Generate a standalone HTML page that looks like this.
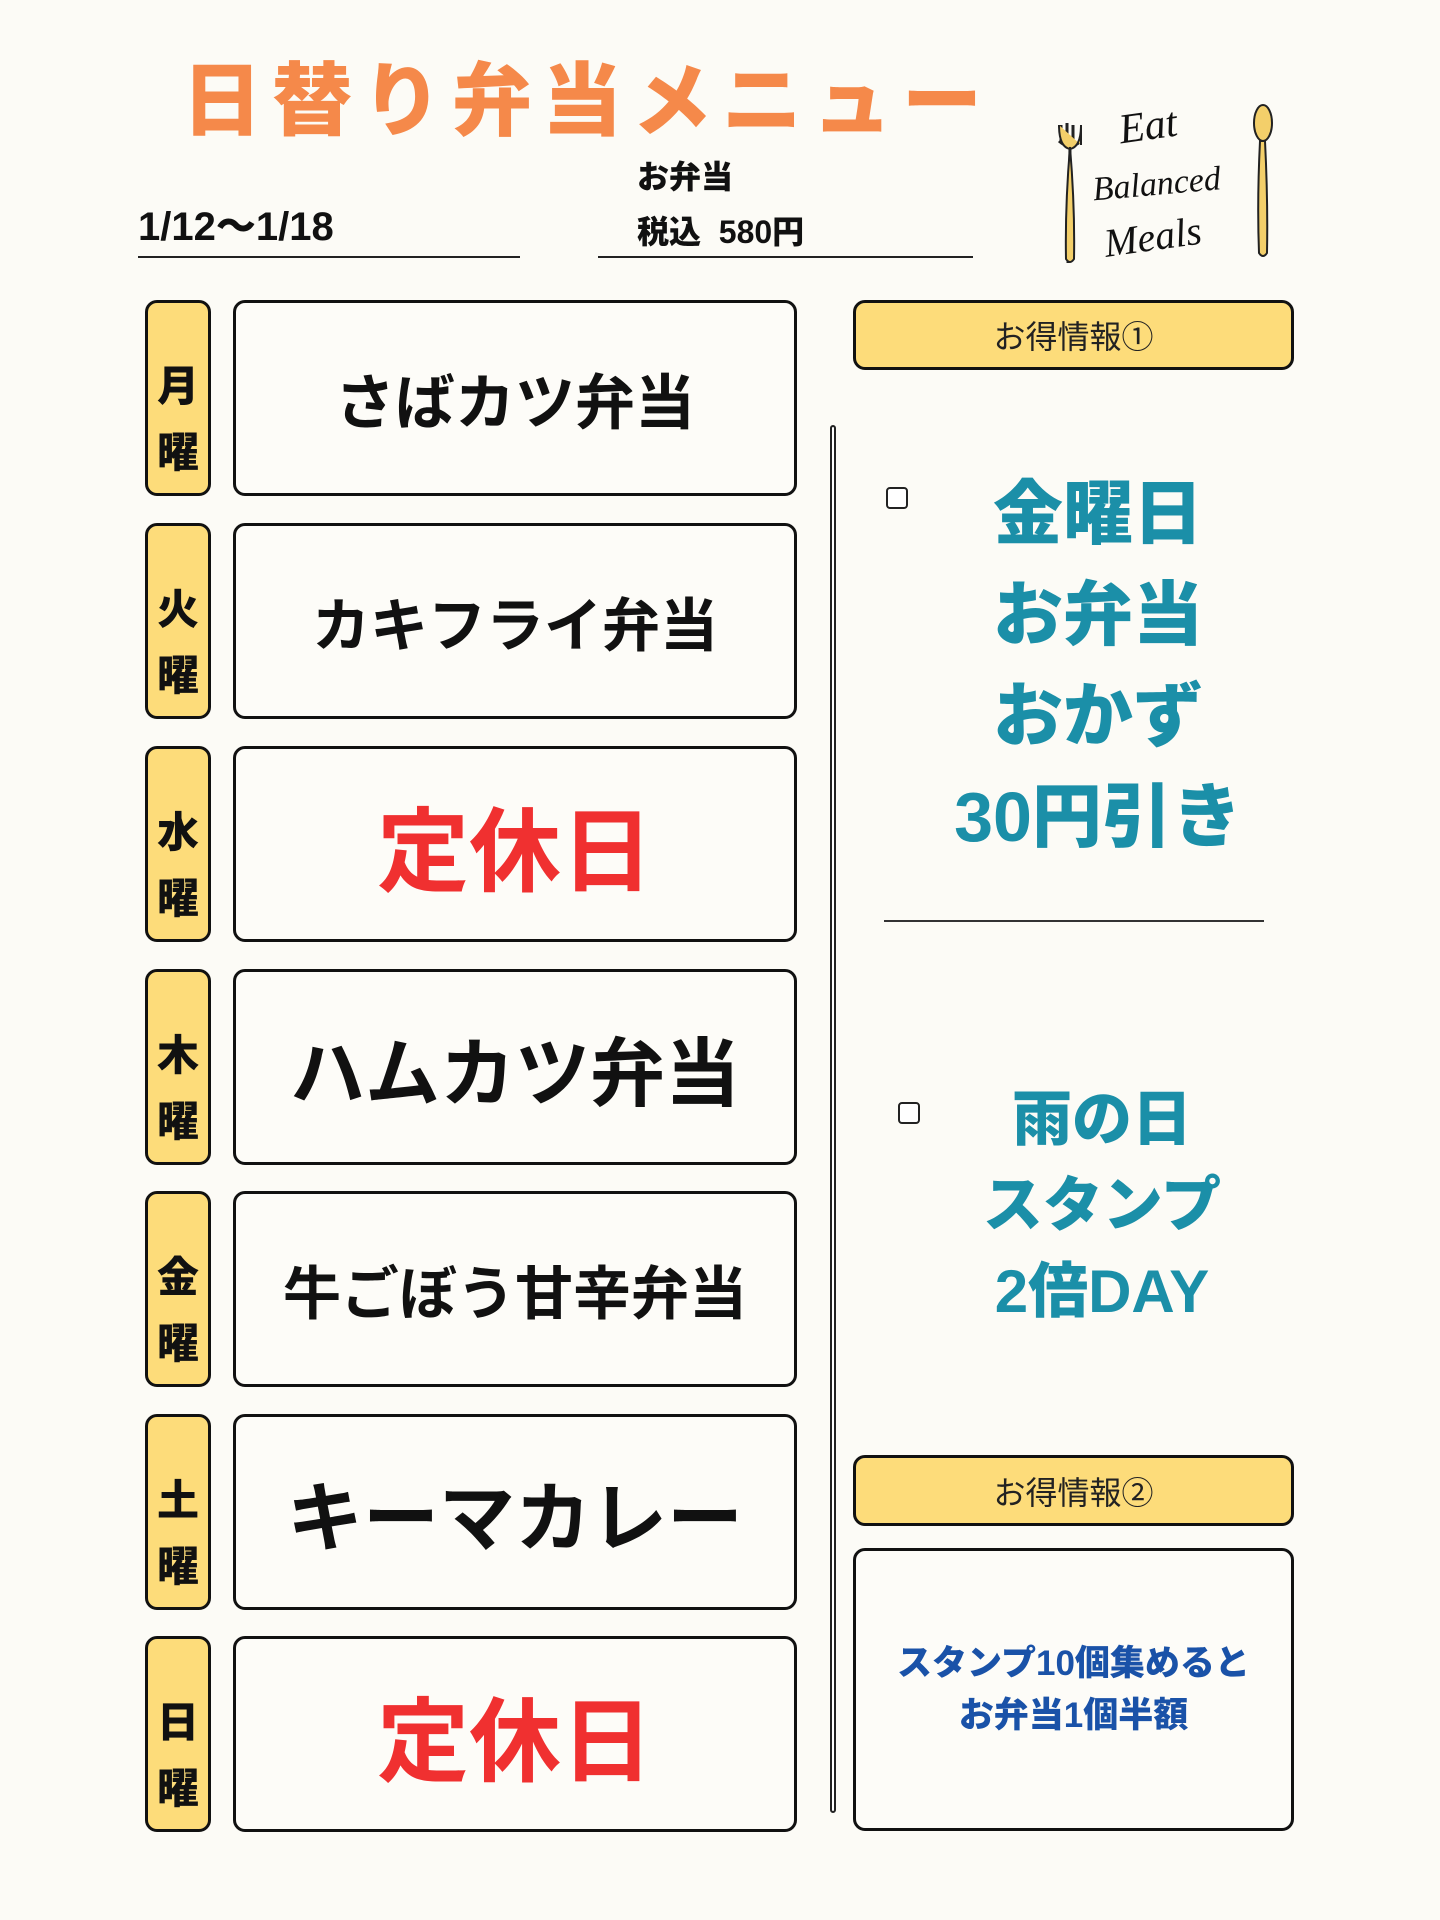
<!DOCTYPE html>
<html><head><meta charset="utf-8"><style>
*{margin:0;padding:0;box-sizing:border-box}
body{width:1440px;height:1920px;background:#fcfbf6;position:relative;overflow:hidden;font-family:"Liberation Sans","Noto Sans CJK JP",sans-serif}
.a{position:absolute}
.c{display:flex;align-items:center;justify-content:center;text-align:center}
.tab{position:absolute;left:145px;width:66px;height:196px;background:#fddc7a;border:3px solid #111;border-radius:12px;flex-direction:column;font-weight:900;font-size:42px;line-height:66px;color:#111;padding-top:44px}
.box{position:absolute;left:233px;width:564px;height:196px;background:#fdfcf8;border:3px solid #111;border-radius:12px;font-weight:700;color:#111}
.y{position:absolute;left:853px;width:441px;background:#fddc7a;border:3px solid #111;border-radius:12px;font-size:32px;color:#222}
.cb{position:absolute;width:22px;height:22px;border:2px solid #222;border-radius:4px;background:#fff}
.teal{color:#1b8fa8;font-weight:900;text-align:center}
</style></head><body>
<div class="a" style="left:182px;top:37px;font-size:80px;font-weight:900;color:#f5894a;letter-spacing:10px;white-space:nowrap">日替り弁当メニュー</div>
<div class="a" style="left:138px;top:194px;font-size:40px;font-weight:900;color:#111">1/12〜1/18</div>
<div class="a" style="left:138px;top:256px;width:382px;height:2px;background:#222"></div>
<div class="a" style="left:637px;top:152px;font-size:32px;font-weight:900;color:#111">お弁当</div>
<div class="a" style="left:637px;top:207px;font-size:32px;font-weight:900;color:#111;white-space:pre">税込  580円</div>
<div class="a" style="left:598px;top:256px;width:375px;height:2px;background:#222"></div>
<!-- logo -->
<svg class="a" style="left:1045px;top:95px" width="240" height="180">
<path d="M16 30 v18 M22 28 v20 M28 30 v18 M14 46 q11 10 22 0 M25 52 L23 168" stroke="#222" stroke-width="3" fill="none"/>
<path d="M14 30 q0 22 11 24 q11 -2 11 -24 v20 M25 52 q-5 60 -4 112 q4 6 8 0 q1-52 -4-112" fill="#f3cf6a" stroke="#222" stroke-width="2"/>
<ellipse cx="218" cy="28" rx="9" ry="18" fill="#f3cf6a" stroke="#222" stroke-width="2"/>
<path d="M215 46 q-3 60 -1 112 q4 6 8 0 q1-52 -2-112z" fill="#f3cf6a" stroke="#222" stroke-width="2"/>
<text x="75" y="45" font-family="Liberation Serif,serif" font-style="italic" font-size="42" fill="#111" transform="rotate(-8 100 40)">Eat</text>
<text x="48" y="100" font-family="Liberation Serif,serif" font-style="italic" font-size="34" fill="#111" transform="rotate(-5 110 95)">Balanced</text>
<text x="60" y="155" font-family="Liberation Serif,serif" font-style="italic" font-size="40" fill="#111" transform="rotate(-8 110 150)">Meals</text>
</svg>
<!-- days -->
<div class="tab c" style="top:300px"><span>月</span><span>曜</span></div>
<div class="tab c" style="top:523px"><span>火</span><span>曜</span></div>
<div class="tab c" style="top:746px"><span>水</span><span>曜</span></div>
<div class="tab c" style="top:969px"><span>木</span><span>曜</span></div>
<div class="tab c" style="top:1191px"><span>金</span><span>曜</span></div>
<div class="tab c" style="top:1414px"><span>土</span><span>曜</span></div>
<div class="tab c" style="top:1636px"><span>日</span><span>曜</span></div>
<div class="box c" style="top:300px;font-size:60px">さばカツ弁当</div>
<div class="box c" style="top:523px;font-size:58px">カキフライ弁当</div>
<div class="box c" style="top:746px;font-size:92px;color:#f03030">定休日</div>
<div class="box c" style="top:969px;font-size:75px">ハムカツ弁当</div>
<div class="box c" style="top:1191px;font-size:58px">牛ごぼう甘辛弁当</div>
<div class="box c" style="top:1414px;font-size:76px">キーマカレー</div>
<div class="box c" style="top:1636px;font-size:92px;color:#f03030">定休日</div>
<div class="a" style="left:830px;top:425px;width:6px;height:1388px;border:2px solid #222;border-radius:3px;background:#fff"></div>
<!-- right -->
<div class="y c" style="top:300px;height:70px">お得情報①</div>
<div class="cb" style="left:886px;top:487px"></div>
<div class="a teal" style="left:898px;top:464px;width:400px;font-size:70px;line-height:101px">金曜日<br>お弁当<br>おかず<br>30円引き</div>
<div class="a" style="left:884px;top:920px;width:380px;height:2px;background:#333"></div>
<div class="cb" style="left:898px;top:1102px"></div>
<div class="a teal" style="left:902px;top:1077px;width:400px;font-size:60px;line-height:86px">雨の日<br>スタンプ<br>2倍DAY</div>
<div class="y c" style="top:1455px;height:71px">お得情報②</div>
<div class="a c" style="left:853px;top:1548px;width:441px;height:283px;border:3px solid #111;border-radius:12px;background:#fdfcf8;color:#1a52a8;font-weight:900;font-size:35px;line-height:52px">スタンプ10個集めると<br>お弁当1個半額</div>
</body></html>
